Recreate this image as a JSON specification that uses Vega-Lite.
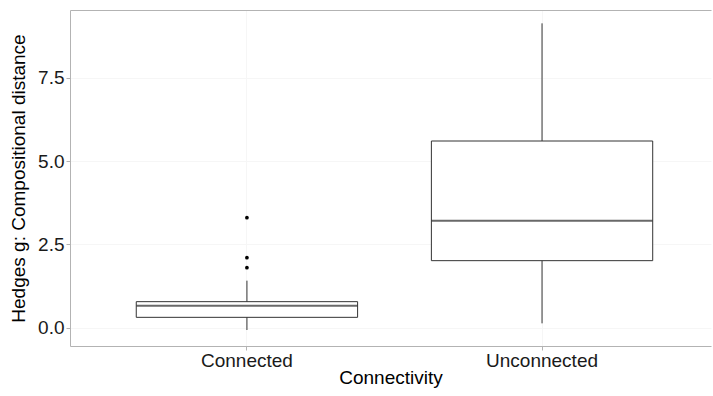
{
  "$schema": "https://vega.github.io/schema/vega-lite/v6.json",
  "width": 641,
  "height": 336,
  "autosize": {"type": "none"},
  "padding": {"left": 70, "top": 10, "right": 2, "bottom": 50},
  "background": "white",
  "config": {
    "view": {"stroke": null},
    "font": "Liberation Sans",
    "axis": {
      "labelFontSize": 19,
      "titleFontSize": 19,
      "titleFontWeight": "normal",
      "labelColor": "#1a1a1a",
      "titleColor": "#000000",
      "tickColor": "#b3b3b3",
      "domainColor": "#b3b3b3",
      "tickSize": 4,
      "gridColor": "#f6f6f6",
      "labelPadding": 2
    }
  },
  "datasets": {
    "boxes": [
      {"Connectivity": "Connected", "lower": -0.07, "q1": 0.31, "median": 0.66, "q3": 0.78, "upper": 1.41},
      {"Connectivity": "Unconnected", "lower": 0.13, "q1": 2.01, "median": 3.21, "q3": 5.6, "upper": 9.13}
    ],
    "outliers": [
      {"Connectivity": "Connected", "value": 3.3},
      {"Connectivity": "Connected", "value": 2.1},
      {"Connectivity": "Connected", "value": 1.8}
    ]
  },
  "layer": [
    {
      "data": {"name": "boxes"},
      "mark": {"type": "rule", "color": "#333333", "strokeWidth": 1},
      "encoding": {
        "x": {
          "field": "Connectivity", "type": "nominal",
          "scale": {"type": "band", "domain": ["Connected", "Unconnected"], "paddingInner": 0.25, "paddingOuter": 0.211, "align": 0.532},
          "axis": {"orient": "bottom", "labelAngle": 0, "grid": true, "title": "Connectivity", "titlePadding": -2, "labelPadding": 1}
        },
        "y": {
          "field": "lower", "type": "quantitative",
          "scale": {"domain": [-0.55, 9.53], "nice": false, "zero": false},
          "axis": {"values": [0, 2.5, 5, 7.5], "format": ".1f", "grid": true, "title": "Hedges g: Compositional distance", "titlePadding": 9}
        },
        "y2": {"field": "upper"}
      }
    },
    {
      "data": {"name": "boxes"},
      "mark": {"type": "bar", "fill": "white", "stroke": "#333333", "strokeWidth": 1},
      "encoding": {
        "x": {
          "field": "Connectivity", "type": "nominal",
          "axis": {"orient": "top", "labels": false, "ticks": false, "grid": false, "title": null, "domain": true}
        },
        "y": {"field": "q1", "type": "quantitative"},
        "y2": {"field": "q3"}
      }
    },
    {
      "data": {"name": "boxes"},
      "mark": {"type": "tick", "color": "#2a2a2a", "size": 221, "thickness": 2, "orient": "horizontal"},
      "encoding": {
        "x": {"field": "Connectivity", "type": "nominal", "axis": null},
        "y": {"field": "median", "type": "quantitative"}
      }
    },
    {
      "data": {"name": "outliers"},
      "mark": {"type": "circle", "color": "#000000", "size": 14, "opacity": 1},
      "encoding": {
        "x": {"field": "Connectivity", "type": "nominal", "axis": null},
        "y": {"field": "value", "type": "quantitative"}
      }
    }
  ],
  "resolve": {"axis": {"x": "independent"}}
}
